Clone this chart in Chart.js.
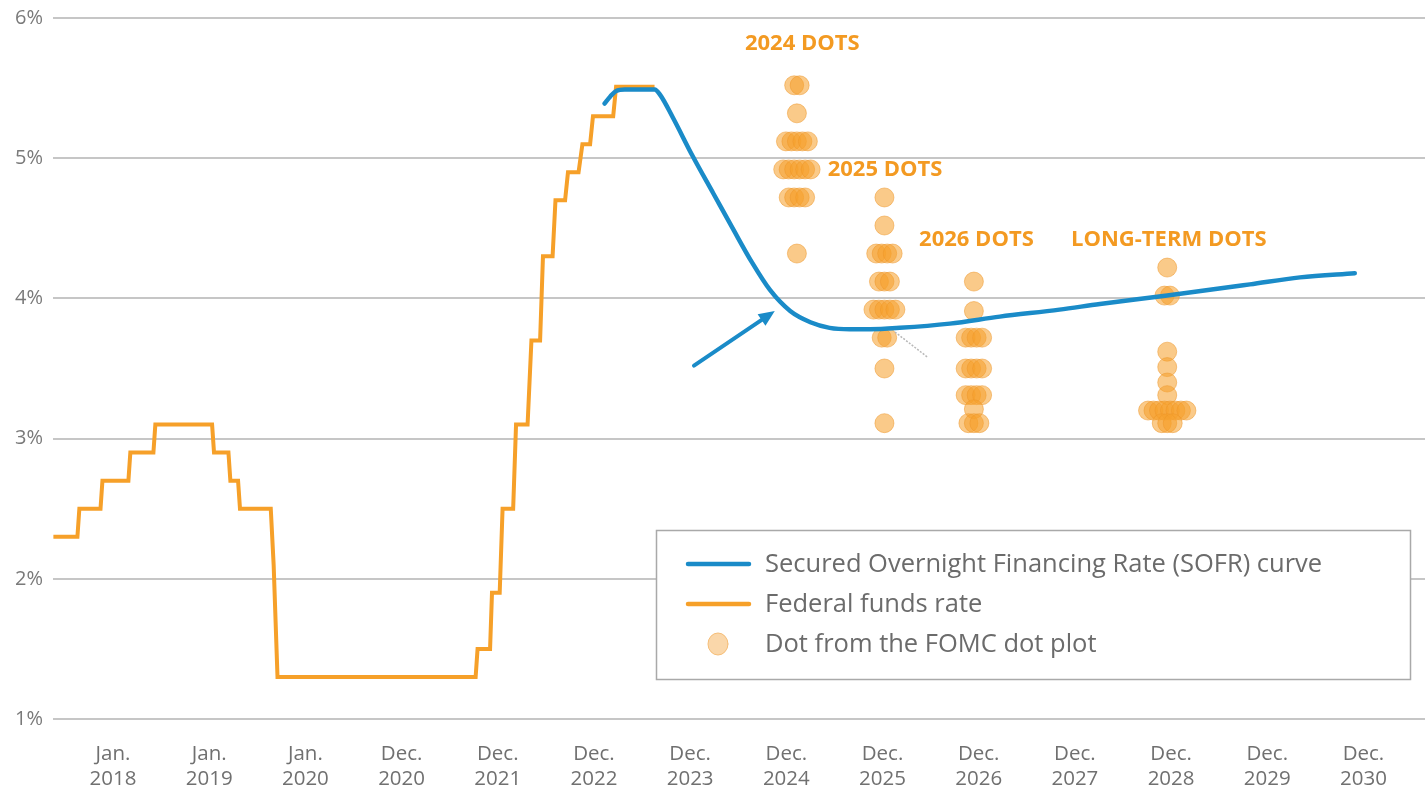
<!DOCTYPE html>
<html>
<head>
<meta charset="utf-8">
<script src="https://cdn.jsdelivr.net/npm/chart.js@4.4.1/dist/chart.umd.min.js"></script>
<style>
  html, body { margin: 0; padding: 0; background: #ffffff; overflow: hidden; }
  #wrap { width: 1425px; height: 788px; position: relative; }
  canvas { display: block; }
</style>
</head>
<body>
<div id="wrap"><canvas id="c" width="1425" height="788"></canvas></div>
<script>
// ---------- DATA ----------
// x values are positions on the time axis (decimal years; tick "Jan. 2018" = 2018, "Dec. 2020" = 2021, ...)
const tickPositions = [2018, 2019, 2020, 2021, 2022, 2023, 2024, 2025, 2026, 2027, 2028, 2029, 2030, 2031];
const tickLabels = [
  ["Jan.", "2018"], ["Jan.", "2019"], ["Jan.", "2020"], ["Dec.", "2020"], ["Dec.", "2021"],
  ["Dec.", "2022"], ["Dec.", "2023"], ["Dec.", "2024"], ["Dec.", "2025"], ["Dec.", "2026"],
  ["Dec.", "2027"], ["Dec.", "2028"], ["Dec.", "2029"], ["Dec.", "2030"]
];
const yTicks = [1, 2, 3, 4, 5, 6];

// Federal funds rate (step corners)
const fedDates = [
  2017.38, 2017.63, 2017.65, 2017.87, 2017.89, 2018.16, 2018.18, 2018.42, 2018.44,
  2019.03, 2019.05, 2019.20, 2019.22, 2019.30, 2019.32, 2019.64, 2019.67, 2019.71,
  2021.77, 2021.79, 2021.92, 2021.94, 2022.02, 2022.05, 2022.16, 2022.19, 2022.31, 2022.35,
  2022.44, 2022.47, 2022.57, 2022.60, 2022.70, 2022.73, 2022.84, 2022.88, 2022.96, 2022.99,
  2023.20, 2023.23, 2023.63
];
const fedRates = [
  2.30, 2.30, 2.50, 2.50, 2.70, 2.70, 2.90, 2.90, 3.10,
  3.10, 2.90, 2.90, 2.70, 2.70, 2.50, 2.50, 2.10, 1.30,
  1.30, 1.50, 1.50, 1.90, 1.90, 2.50, 2.50, 3.10, 3.10, 3.70,
  3.70, 4.30, 4.30, 4.70, 4.70, 4.90, 4.90, 5.10, 5.10, 5.30,
  5.30, 5.51, 5.51
];

// SOFR curve
const sofrDates = [
  2023.11, 2023.17, 2023.23, 2023.32, 2023.48, 2023.63, 2023.69, 2023.82, 2024.03, 2024.24,
  2024.45, 2024.64, 2024.83, 2025.04, 2025.25, 2025.45, 2025.66, 2025.87, 2026.18, 2026.70,
  2027.22, 2027.84, 2028.26, 2028.96, 2029.82, 2030.34, 2030.91
];
const sofrRates = [
  5.39, 5.44, 5.48, 5.49, 5.49, 5.49, 5.45, 5.29, 5.01, 4.75,
  4.49, 4.26, 4.06, 3.91, 3.83, 3.79, 3.78, 3.78, 3.79, 3.82,
  3.87, 3.92, 3.96, 4.02, 4.10, 4.15, 4.18
];

// FOMC dots: column position, rate levels, number of dots at each level
const dotColumns = [2025.11, 2026.02, 2026.95, 2028.96];
const dots2024Rates = [5.52, 5.32, 5.12, 4.92, 4.72, 4.32];
const dots2024Counts = [2, 1, 5, 6, 4, 1];
const dots2025Rates = [4.72, 4.52, 4.32, 4.12, 3.92, 3.72, 3.50, 3.11];
const dots2025Counts = [1, 1, 4, 3, 5, 2, 1, 1];
const dots2026Rates = [4.12, 3.91, 3.72, 3.50, 3.31, 3.21, 3.11];
const dots2026Counts = [1, 1, 4, 4, 4, 1, 3];
const dotsLongRates = [4.22, 4.02, 3.62, 3.51, 3.40, 3.31, 3.20, 3.11];
const dotsLongCounts = [1, 2, 1, 1, 1, 1, 8, 3];

// Annotation labels
const noteTexts = ["2024 DOTS", "2025 DOTS", "2026 DOTS", "LONG-TERM DOTS"];
const noteDates = [2024.57, 2025.43, 2026.38, 2027.96];
const noteRates = [5.82, 4.92, 4.42, 4.42];

// Arrow and pointer (data coordinates)
const arrowFrom = [2024.04, 3.52];
const arrowTo = [2024.88, 3.91];
const pointerFrom = [2026.13, 3.76];
const pointerTo = [2026.47, 3.58];

const legendLabels = [
  "Secured Overnight Financing Rate (SOFR) curve",
  "Federal funds rate",
  "Dot from the FOMC dot plot"
];

// ---------- STYLE ----------
const BLUE = "#1a8bc8";
const ORANGE = "#f6a029";
const DOT_FILL = "rgba(246,160,44,0.56)";
const DOT_BORDER = "rgba(238,150,40,0.5)";
const FONT = "'Open Sans', 'DejaVu Sans', sans-serif";
const DOT_SPREAD = 0.057; // horizontal offset between stacked dots (axis units)

// ---------- BUILD ----------
const fedData = fedDates.map((d, i) => ({ x: d, y: fedRates[i] }));
const sofrData = sofrDates.map((d, i) => ({ x: d, y: sofrRates[i] }));

function buildDots(col, rates, counts) {
  const pts = [];
  rates.forEach((r, i) => {
    const n = counts[i];
    for (let k = 0; k < n; k++) {
      pts.push({ x: col + (k - (n - 1) / 2) * DOT_SPREAD, y: r });
    }
  });
  return pts;
}
const dotData = [].concat(
  buildDots(dotColumns[0], dots2024Rates, dots2024Counts),
  buildDots(dotColumns[1], dots2025Rates, dots2025Counts),
  buildDots(dotColumns[2], dots2026Rates, dots2026Counts),
  buildDots(dotColumns[3], dotsLongRates, dotsLongCounts)
);

const overlay = {
  id: "overlay",
  afterDatasetsDraw(chart) {
    const { ctx, scales: { x, y } } = chart;
    ctx.save();
    // pointer line
    ctx.strokeStyle = "#b8b8b8";
    ctx.lineWidth = 1.5;
    ctx.setLineDash([2, 1.5]);
    ctx.beginPath();
    ctx.moveTo(x.getPixelForValue(pointerFrom[0]), y.getPixelForValue(pointerFrom[1]));
    ctx.lineTo(x.getPixelForValue(pointerTo[0]), y.getPixelForValue(pointerTo[1]));
    ctx.stroke();
    ctx.setLineDash([]);

    // arrow
    const x1 = x.getPixelForValue(arrowFrom[0]), y1 = y.getPixelForValue(arrowFrom[1]);
    const x2 = x.getPixelForValue(arrowTo[0]), y2 = y.getPixelForValue(arrowTo[1]);
    const ang = Math.atan2(y2 - y1, x2 - x1);
    const headLen = 16, headW = 7;
    ctx.strokeStyle = BLUE;
    ctx.fillStyle = BLUE;
    ctx.lineWidth = 4;
    ctx.lineCap = "round";
    ctx.beginPath();
    ctx.moveTo(x1, y1);
    ctx.lineTo(x2 - Math.cos(ang) * (headLen - 2), y2 - Math.sin(ang) * (headLen - 2));
    ctx.stroke();
    ctx.beginPath();
    ctx.moveTo(x2, y2);
    ctx.lineTo(x2 - Math.cos(ang) * headLen - Math.sin(ang) * headW, y2 - Math.sin(ang) * headLen + Math.cos(ang) * headW);
    ctx.lineTo(x2 - Math.cos(ang) * headLen + Math.sin(ang) * headW, y2 - Math.sin(ang) * headLen - Math.cos(ang) * headW);
    ctx.closePath();
    ctx.fill();

    // annotation labels
    ctx.fillStyle = "#f39a22";
    ctx.font = "bold 22px " + FONT;
    ctx.textAlign = "left";
    ctx.textBaseline = "middle";
    noteTexts.forEach((t, i) => {
      ctx.fillText(t, x.getPixelForValue(noteDates[i]), y.getPixelForValue(noteRates[i]));
    });
    ctx.restore();
  },
  afterDraw(chart) {
    const { ctx } = chart;
    ctx.save();
    // legend box
    ctx.fillStyle = "#ffffff";
    ctx.fillRect(656, 530, 754, 149);
    ctx.strokeStyle = "#a9a9a9";
    ctx.lineWidth = 1.5;
    ctx.strokeRect(656.5, 530.5, 754, 149);
    const rows = [564, 604, 644];
    ctx.lineCap = "round";
    ctx.lineWidth = 4.5;
    ctx.strokeStyle = BLUE;
    ctx.beginPath(); ctx.moveTo(688, rows[0]); ctx.lineTo(749, rows[0]); ctx.stroke();
    ctx.strokeStyle = ORANGE;
    ctx.beginPath(); ctx.moveTo(688, rows[1]); ctx.lineTo(749, rows[1]); ctx.stroke();
    ctx.fillStyle = "rgba(250,215,170,1)";
    ctx.strokeStyle = "rgba(246,190,120,1)";
    ctx.lineWidth = 1;
    ctx.beginPath(); ctx.ellipse(718, rows[2], 10, 11, 0, 0, Math.PI * 2); ctx.fill(); ctx.stroke();
    ctx.fillStyle = "#6b6b6b";
    ctx.font = "25.5px " + FONT;
    ctx.textAlign = "left";
    ctx.textBaseline = "middle";
    legendLabels.forEach((t, i) => ctx.fillText(t, 765, rows[i] + 1));
    ctx.restore();
  }
};

new Chart(document.getElementById("c"), {
  type: "scatter",
  data: {
    datasets: [
      {
        label: legendLabels[2], data: dotData, order: 3,
        pointRadius: 9.5, pointHoverRadius: 9.5,
        backgroundColor: DOT_FILL, borderColor: DOT_BORDER, borderWidth: 1
      },
      {
        label: legendLabels[1], data: fedData, order: 2, showLine: true,
        borderColor: ORANGE, borderWidth: 4, pointRadius: 0, tension: 0,
        borderJoinStyle: "miter"
      },
      {
        label: legendLabels[0], data: sofrData, order: 1, showLine: true,
        borderColor: BLUE, borderWidth: 4.5, pointRadius: 0,
        cubicInterpolationMode: "monotone", borderCapStyle: "round"
      }
    ]
  },
  options: {
    responsive: false,
    animation: false,
    devicePixelRatio: 1,
    layout: { autoPadding: false, padding: { top: 18, right: 0, left: 0, bottom: 0 } },
    plugins: { legend: { display: false }, tooltip: { enabled: false } },
    scales: {
      x: {
        type: "linear",
        min: 2017.376,
        max: 2031.64,
        grid: { display: false, drawTicks: false },
        border: { display: false },
        afterBuildTicks: (s) => { s.ticks = tickPositions.map(v => ({ value: v })); },
        afterFit: (s) => { s.height = 69; s.paddingLeft = 0; s.paddingRight = 0; },
        ticks: {
          autoSkip: false,
          maxRotation: 0,
          padding: 22,
          color: "#707070",
          font: { family: FONT, size: 20.5, lineHeight: 1.25 },
          callback: (v) => { const i = tickPositions.indexOf(v); return i >= 0 ? tickLabels[i] : ""; }
        }
      },
      y: {
        min: 1,
        max: 6,
        afterBuildTicks: (s) => { s.ticks = yTicks.map(v => ({ value: v })); },
        afterFit: (s) => { s.width = 53; s.paddingTop = 0; s.paddingBottom = 0; },
        grid: { color: "#c6c6c6", lineWidth: 2, drawTicks: false },
        border: { display: false },
        ticks: {
          padding: 10,
          color: "#7a7a7a",
          font: { family: FONT, size: 20 },
          callback: (v) => v + "%"
        }
      }
    }
  },
  plugins: [overlay]
});
</script>
</body>
</html>
